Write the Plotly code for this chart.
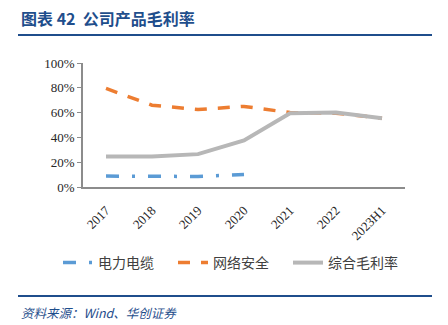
import plotly.graph_objects as go

categories = ["2017", "2018", "2019", "2020", "2021", "2022", "2023H1"]
cable = [0.088, 0.09, 0.085, 0.10, None, None, None]
security = [0.795, 0.66, 0.625, 0.65, 0.60, 0.595, 0.555]
overall = [0.245, 0.245, 0.265, 0.375, 0.595, 0.60, 0.555]
yticks = [0, 0.2, 0.4, 0.6, 0.8, 1.0]
ytick_labels = ["0%", "20%", "40%", "60%", "80%", "100%"]

L, R, T, B = 83, 43, 63, 138
W, H = 448, 325
PW, PH = W - L - R, H - T - B

def px(x):
    return (x - L) / PW

def py(y):
    return (H - B - y) / PH

fig = go.Figure()
fig.add_trace(go.Scatter(x=categories, y=cable, name="电力电缆", mode="lines",
                         line=dict(color="#5B9BD5", width=3.5, dash="13px,13px,3px,13px")))
fig.add_trace(go.Scatter(x=categories, y=security, name="网络安全", mode="lines",
                         line=dict(color="#ED7D31", width=3.5, dash="12px,11px")))
fig.add_trace(go.Scatter(x=categories, y=overall, name="综合毛利率", mode="lines",
                         line=dict(color="#B7B7B7", width=4)))

title_color = "#1F4E8C"
fig.update_layout(
    width=W, height=H,
    margin=dict(l=L, r=R, t=T, b=B),
    plot_bgcolor="white", paper_bgcolor="white",
    showlegend=True,
    legend=dict(orientation="h", x=px(58), xanchor="left", y=py(263), yanchor="middle",
                font=dict(family="Noto Sans CJK SC", size=14, color="#404040"),
                entrywidth=70, entrywidthmode="pixels", tracegroupgap=0),
    xaxis=dict(type="category", range=[-0.5, 6.5], tickangle=-45, showline=True,
               linecolor="#8C8C8C", linewidth=1.5,
               ticks="outside", ticklen=9, tickcolor="rgba(0,0,0,0)", showgrid=False,
               tickfont=dict(family="Liberation Serif", size=13, color="#262626")),
    yaxis=dict(range=[0, 1], tickvals=yticks, ticktext=ytick_labels, showline=True,
               linecolor="#8C8C8C", linewidth=1.5, ticks="outside", ticklen=4, tickcolor="#8C8C8C",
               showgrid=False, zeroline=False,
               tickfont=dict(family="Liberation Serif", size=13, color="#262626")),
    annotations=[
        dict(text="<b>图表 42  公司产品毛利率</b>", xref="paper", yref="paper",
             x=px(19), y=py(18), xanchor="left", yanchor="middle", showarrow=False,
             font=dict(family="Noto Sans CJK SC", size=16, color=title_color)),
        dict(text="<i>资料来源：Wind、华创证券</i>", xref="paper", yref="paper",
             x=px(19), y=py(312), xanchor="left", yanchor="middle", showarrow=False,
             font=dict(family="Noto Sans CJK SC", size=12.5, color=title_color)),
    ],
    shapes=[
        dict(type="line", xref="paper", yref="paper", x0=px(18), x1=px(432), y0=py(35), y1=py(35),
             line=dict(color="#1F4E8C", width=2)),
        dict(type="line", xref="paper", yref="paper", x0=px(18), x1=px(432), y0=py(296), y1=py(296),
             line=dict(color="#1F4E8C", width=2)),
    ],
)

fig.write_html("out.html")
